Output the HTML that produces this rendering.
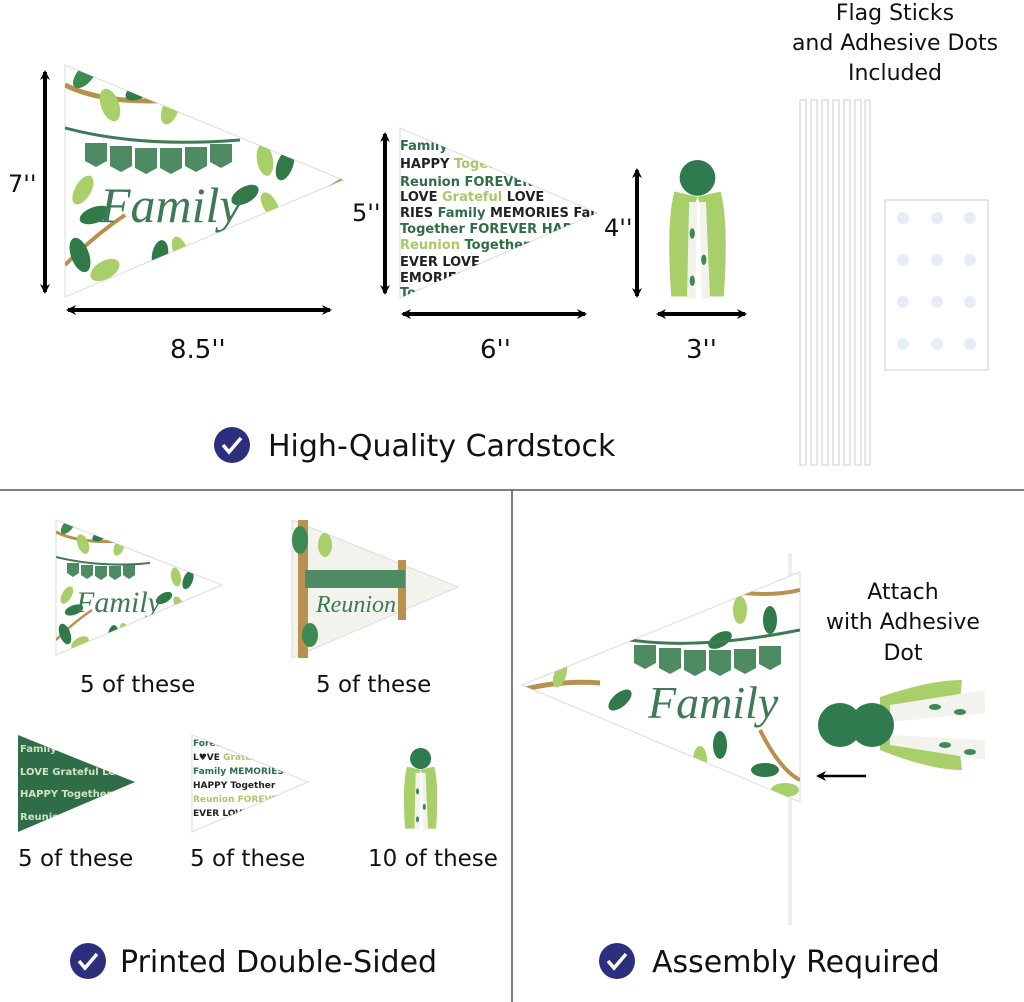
<!DOCTYPE html>
<html><head><meta charset="utf-8"><style>
html,body{margin:0;padding:0;background:#fff;}
svg{display:block;}
text{font-family:"DejaVu Sans","Liberation Sans",sans-serif;fill:#111;}
</style></head><body>
<svg width="1024" height="1002" viewBox="0 0 1024 1002" xmlns="http://www.w3.org/2000/svg">
<defs>
<marker id="ah" markerWidth="10" markerHeight="10" refX="8" refY="5" orient="auto-start-reverse" markerUnits="userSpaceOnUse"><path d="M0,0 L10,5 L0,10 L3,5 z" fill="#000"/></marker>
<g id="leafs">
 <path d="M0,20 Q40,40 110,35" stroke="#b8914f" stroke-width="5" fill="none"/>
 <path d="M160,200 Q220,150 278,115" stroke="#b8914f" stroke-width="5" fill="none"/>
 <path d="M0,200 Q30,170 60,150" stroke="#b8914f" stroke-width="4" fill="none"/>
 <ellipse cx="20" cy="10" rx="8" ry="16" fill="#3e8a55" transform="rotate(40 20 10)"/>
 <ellipse cx="45" cy="40" rx="9" ry="17" fill="#a9cf6a" transform="rotate(-20 45 40)"/>
 <ellipse cx="75" cy="25" rx="8" ry="16" fill="#2f7a48" transform="rotate(60 75 25)"/>
 <ellipse cx="105" cy="45" rx="8" ry="15" fill="#a9cf6a" transform="rotate(20 105 45)"/>
 <ellipse cx="125" cy="30" rx="7" ry="14" fill="#2f7a48" transform="rotate(70 125 30)"/>
 <ellipse cx="18" cy="125" rx="8" ry="16" fill="#a9cf6a" transform="rotate(30 18 125)"/>
 <ellipse cx="30" cy="150" rx="8" ry="16" fill="#2f7a48" transform="rotate(70 30 150)"/>
 <ellipse cx="15" cy="190" rx="9" ry="18" fill="#2f7a48" transform="rotate(-20 15 190)"/>
 <ellipse cx="40" cy="205" rx="9" ry="16" fill="#a9cf6a" transform="rotate(60 40 205)"/>
 <ellipse cx="95" cy="190" rx="8" ry="15" fill="#2f7a48" transform="rotate(10 95 190)"/>
 <ellipse cx="115" cy="185" rx="7" ry="14" fill="#a9cf6a" transform="rotate(-20 115 185)"/>
 <ellipse cx="200" cy="95" rx="8" ry="16" fill="#a9cf6a" transform="rotate(-10 200 95)"/>
 <ellipse cx="220" cy="100" rx="8" ry="16" fill="#2f7a48" transform="rotate(20 220 100)"/>
 <ellipse cx="180" cy="130" rx="8" ry="15" fill="#2f7a48" transform="rotate(60 180 130)"/>
 <ellipse cx="205" cy="140" rx="7" ry="14" fill="#a9cf6a" transform="rotate(-30 205 140)"/>
</g>
<g id="tassel">
 <path d="M8,30 Q0,60 5,130 L22,130 Q18,70 30,35 Z" fill="#a9cf6a"/>
 <path d="M52,30 Q60,60 55,130 L38,130 Q42,70 30,35 Z" fill="#a9cf6a"/>
 <path d="M22,40 L20,132 L28,132 L30,40 Z M32,40 L34,132 L42,132 L38,40Z" fill="#f3f3ee"/>
 <ellipse cx="25" cy="70" rx="2.5" ry="5" fill="#3e8a55"/><ellipse cx="36" cy="95" rx="2.5" ry="5" fill="#3e8a55"/><ellipse cx="25" cy="115" rx="2.5" ry="5" fill="#3e8a55"/>
 <circle cx="30" cy="17" r="17" fill="#2f7a4e"/>
</g>
</defs>

<line x1="0" y1="490" x2="1024" y2="490" stroke="#555" stroke-width="1.5"/>
<line x1="512" y1="490" x2="512" y2="1002" stroke="#555" stroke-width="1.5"/>

<!-- Pennant 1 -->
<polygon points="65,65 65,297 343,180" fill="#fff" stroke="#ddd"/>
<clipPath id="c1"><polygon points="65,65 65,297 343,180"/></clipPath>
<g clip-path="url(#c1)"><use href="#leafs" transform="translate(65,65)"/>
<path d="M65,128 Q140,148 240,140" stroke="#3d7a55" stroke-width="3" fill="none"/>
<path d="M85,143 h22 v18 l-11,6 l-11,-6z M110,146 h22 v20 l-11,6 l-11,-6z M135,148 h22 v20 l-11,6 l-11,-6z M160,148 h22 v20 l-11,6 l-11,-6z M185,147 h22 v19 l-11,6 l-11,-6z M210,144 h22 v18 l-11,6 l-11,-6z" fill="#4e8a62"/>
<text x="100" y="222" font-size="50" font-style="italic" style="fill:#3d7a55;font-family:'Liberation Serif',serif">Family</text></g>
<line x1="45" y1="72" x2="45" y2="292" stroke="#000" stroke-width="4" marker-start="url(#ah)" marker-end="url(#ah)"/>
<text x="8" y="192" font-size="24">7''</text>
<line x1="68" y1="310" x2="330" y2="310" stroke="#000" stroke-width="4" marker-start="url(#ah)" marker-end="url(#ah)"/>
<text x="170" y="358" font-size="26">8.5''</text>

<!-- Pennant 2 -->
<polygon points="400,128 400,298 597,213" fill="#fff" stroke="#ddd"/>
<clipPath id="c2"><polygon points="400,128 400,298 597,213"/></clipPath>
<g clip-path="url(#c2)" font-size="13" font-weight="bold">
<text x="400" y="150" style="fill:#2f6d48">Family Together</text>
<text x="400" y="168" style="fill:#222">HAPPY <tspan style="fill:#a9c86a">Together</tspan></text>
<text x="400" y="186" style="fill:#2f6d48">Reunion FOREVER</text>
<text x="400" y="201" style="fill:#222">LOVE <tspan style="fill:#a9c86a">Grateful</tspan> LOVE</text>
<text x="400" y="217" style="fill:#222">RIES <tspan style="fill:#2f6d48">Family</tspan> MEMORIES Family</text>
<text x="400" y="233" style="fill:#2f6d48">Together FOREVER HAPPY</text>
<text x="400" y="249" style="fill:#a9c86a">Reunion <tspan style="fill:#2f6d48">Together</tspan></text>
<text x="400" y="266" style="fill:#222">EVER LOVE</text>
<text x="400" y="282" style="fill:#222">EMORIES</text>
<text x="400" y="297" style="fill:#2f6d48">Together</text></g>
<line x1="385" y1="134" x2="385" y2="293" stroke="#000" stroke-width="4" marker-start="url(#ah)" marker-end="url(#ah)"/>
<text x="352" y="221" font-size="24">5''</text>
<line x1="403" y1="314" x2="585" y2="314" stroke="#000" stroke-width="4" marker-start="url(#ah)" marker-end="url(#ah)"/>
<text x="480" y="358" font-size="26">6''</text>

<!-- Tassel -->
<use href="#tassel" transform="translate(666,160) scale(1.05)"/>
<line x1="637" y1="170" x2="637" y2="296" stroke="#000" stroke-width="4" marker-start="url(#ah)" marker-end="url(#ah)"/>
<text x="604" y="236" font-size="24">4''</text>
<line x1="658" y1="314" x2="745" y2="314" stroke="#000" stroke-width="4" marker-start="url(#ah)" marker-end="url(#ah)"/>
<text x="686" y="358" font-size="26">3''</text>

<!-- sticks -->
<g fill="#fff" stroke="#ccc" stroke-width="1">
<rect x="800" y="100" width="6" height="365"/><rect x="811" y="100" width="6" height="365"/><rect x="822" y="100" width="6" height="365"/><rect x="833" y="100" width="6" height="365"/><rect x="844" y="100" width="6" height="365"/><rect x="855" y="100" width="6" height="365"/><rect x="865" y="100" width="5" height="365"/></g>
<rect x="885" y="200" width="103" height="170" fill="#fff" stroke="#ccc"/>
<g fill="#e4eef4">
<circle cx="903" cy="218" r="6"/><circle cx="937" cy="218" r="6"/><circle cx="970" cy="218" r="6"/>
<circle cx="903" cy="260" r="6"/><circle cx="937" cy="260" r="6"/><circle cx="970" cy="260" r="6"/>
<circle cx="903" cy="302" r="6"/><circle cx="937" cy="302" r="6"/><circle cx="970" cy="302" r="6"/>
<circle cx="903" cy="344" r="6"/><circle cx="937" cy="344" r="6"/><circle cx="970" cy="344" r="6"/></g>
<text x="895" y="20" font-size="22" text-anchor="middle">Flag Sticks</text>
<text x="895" y="50" font-size="22" text-anchor="middle">and Adhesive Dots</text>
<text x="895" y="80" font-size="22" text-anchor="middle">Included</text>

<circle cx="232" cy="445" r="18" fill="#2b2f7e"/><path d="M223,445 l6,7 l12,-14" stroke="#fff" stroke-width="3.5" fill="none"/>
<text x="268" y="456" font-size="30">High-Quality Cardstock</text>

<!-- bottom left pennants -->
<polygon points="56,520 56,655 222,585" fill="#fff" stroke="#ddd"/>
<clipPath id="c3"><polygon points="56,520 56,655 222,585"/></clipPath>
<g clip-path="url(#c3)"><use href="#leafs" transform="translate(56,520) scale(0.6)"/>
<path d="M56,557 Q100,568 150,563" stroke="#3d7a55" stroke-width="2" fill="none"/>
<path d="M67,563 h12 v10 l-6,4 l-6,-4z M81,565 h12 v10 l-6,4 l-6,-4z M95,566 h12 v10 l-6,4 l-6,-4z M109,566 h12 v10 l-6,4 l-6,-4z M123,565 h12 v10 l-6,4 l-6,-4z" fill="#4e8a62"/>
<text x="76" y="612" font-size="30" font-style="italic" style="fill:#3d7a55;font-family:'Liberation Serif',serif">Family</text></g>

<polygon points="292,520 292,658 458,587" fill="#f3f3ee" stroke="#ddd"/>
<rect x="298" y="520" width="10" height="138" fill="#b8914f"/>
<rect x="398" y="560" width="8" height="60" fill="#b8914f"/>
<path d="M305,570 h100 v18 h-100z" fill="#4e8a62"/>
<text x="316" y="612" font-size="24" font-style="italic" style="fill:#3d7a55;font-family:'Liberation Serif',serif">Reunion</text>
<ellipse cx="300" cy="540" rx="8" ry="14" fill="#3e8a55"/><ellipse cx="325" cy="545" rx="7" ry="12" fill="#a9cf6a"/><ellipse cx="310" cy="635" rx="8" ry="12" fill="#3e8a55"/>

<polygon points="18,735 18,832 135,782" fill="#2f6d48"/>
<clipPath id="c5"><polygon points="18,735 18,832 135,782"/></clipPath>
<g clip-path="url(#c5)" font-size="10" font-weight="bold"><text x="20" y="752" style="fill:#cfe3c0">Family FOREVER</text><text x="20" y="775" style="fill:#cfe3c0">LOVE Grateful LO</text><text x="20" y="797" style="fill:#cfe3c0">HAPPY Together</text><text x="20" y="820" style="fill:#cfe3c0">Reunion</text></g>

<polygon points="192,735 192,832 308,782" fill="#fff" stroke="#ddd"/>
<clipPath id="c6"><polygon points="192,735 192,832 308,782"/></clipPath>
<g clip-path="url(#c6)" font-size="9" font-weight="bold"><text x="193" y="746" style="fill:#2f6d48">Forever Together</text><text x="193" y="760" style="fill:#222">L♥VE <tspan style="fill:#a9c86a">Grateful</tspan> LOVE</text><text x="193" y="774" style="fill:#2f6d48">Family MEMORIES</text><text x="193" y="788" style="fill:#222">HAPPY Together</text><text x="193" y="802" style="fill:#a9c86a">Reunion FOREVER</text><text x="193" y="816" style="fill:#222">EVER LOVE</text></g>

<use href="#tassel" transform="translate(402,748) scale(0.62)"/>

<g font-size="23"><text x="80" y="692">5 of these</text><text x="316" y="692">5 of these</text>
<text x="18" y="866">5 of these</text><text x="190" y="866">5 of these</text><text x="368" y="866">10 of these</text></g>

<circle cx="88" cy="961" r="18" fill="#2b2f7e"/><path d="M79,961 l6,7 l12,-14" stroke="#fff" stroke-width="3.5" fill="none"/>
<text x="120" y="972" font-size="30">Printed Double-Sided</text>

<!-- bottom right assembly -->
<rect x="788" y="553" width="4" height="372" fill="#eee"/>
<polygon points="522,685 800,572 800,802" fill="#fff" stroke="#ddd"/>
<clipPath id="c4"><polygon points="522,685 800,572 800,802"/></clipPath>
<g clip-path="url(#c4)">
<path d="M522,690 Q560,680 600,683" stroke="#b8914f" stroke-width="5" fill="none"/>
<path d="M700,585 Q760,600 800,590" stroke="#b8914f" stroke-width="4" fill="none"/>
<path d="M760,730 Q780,770 800,780" stroke="#b8914f" stroke-width="4" fill="none"/>
<ellipse cx="620" cy="700" rx="7" ry="14" fill="#2f7a48" transform="rotate(50 620 700)"/><ellipse cx="560" cy="675" rx="6" ry="13" fill="#a9cf6a" transform="rotate(20 560 675)"/>
<ellipse cx="740" cy="610" rx="7" ry="14" fill="#a9cf6a"/><ellipse cx="770" cy="620" rx="7" ry="14" fill="#2f7a48"/><ellipse cx="720" cy="640" rx="7" ry="13" fill="#2f7a48" transform="rotate(60 720 640)"/>
<ellipse cx="700" cy="760" rx="7" ry="14" fill="#a9cf6a"/><ellipse cx="720" cy="745" rx="7" ry="14" fill="#2f7a48"/><ellipse cx="765" cy="770" rx="14" ry="7" fill="#2f7a48"/><ellipse cx="785" cy="790" rx="14" ry="7" fill="#a9cf6a"/>
<path d="M630,640 Q700,650 800,630" stroke="#3d7a55" stroke-width="3" fill="none"/>
<path d="M634,645 h22 v18 l-11,6 l-11,-6z M659,648 h22 v20 l-11,6 l-11,-6z M684,650 h22 v20 l-11,6 l-11,-6z M709,650 h22 v20 l-11,6 l-11,-6z M734,649 h22 v19 l-11,6 l-11,-6z M759,646 h22 v18 l-11,6 l-11,-6z" fill="#4e8a62"/>
<text x="648" y="718" font-size="46" font-style="italic" style="fill:#3d7a55;font-family:'Liberation Serif',serif">Family</text>
</g>
<text x="903" y="599" font-size="22" text-anchor="middle">Attach</text>
<text x="903" y="629" font-size="22" text-anchor="middle">with Adhesive</text>
<text x="903" y="660" font-size="22" text-anchor="middle">Dot</text>
<path d="M880,697 Q930,680 962,680 L960,700 L880,720 Z" fill="#a9cf6a"/>
<path d="M880,750 Q930,770 962,770 L960,752 L880,735 Z" fill="#a9cf6a"/>
<path d="M890,705 L985,690 L985,713 L890,722Z M890,735 L985,740 L985,760 L890,745Z" fill="#f3f3ee"/>
<ellipse cx="935" cy="707" rx="6" ry="3" fill="#3e8a55"/><ellipse cx="960" cy="712" rx="6" ry="3" fill="#3e8a55"/><ellipse cx="945" cy="745" rx="6" ry="3" fill="#3e8a55"/><ellipse cx="970" cy="752" rx="6" ry="3" fill="#3e8a55"/>
<circle cx="840" cy="725" r="22" fill="#2f7a4e"/><circle cx="872" cy="725" r="22" fill="#2f7a4e"/>
<line x1="866" y1="776" x2="818" y2="776" stroke="#000" stroke-width="2.5" marker-end="url(#ah)"/>

<circle cx="617" cy="961" r="18" fill="#2b2f7e"/><path d="M608,961 l6,7 l12,-14" stroke="#fff" stroke-width="3.5" fill="none"/>
<text x="652" y="972" font-size="30">Assembly Required</text>
</svg>
</body></html>
